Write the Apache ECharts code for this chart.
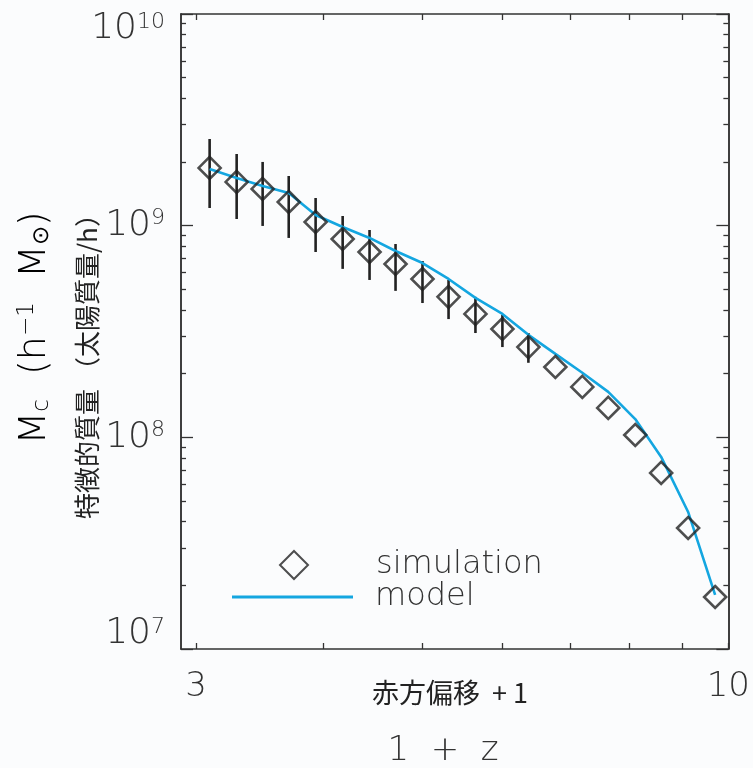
<!DOCTYPE html>
<html>
<head>
<meta charset="utf-8">
<script src="https://cdn.jsdelivr.net/npm/echarts@6/dist/echarts.min.js"></script>
<style>
html,body{margin:0;padding:0;background:#fbfcfd;}
#chart{width:753px;height:768px;}
</style>
</head>
<body>
<div id="chart"></div>
<script>
// ---- data ----
const onePlusZ = [3.094, 3.289, 3.488, 3.700, 3.932, 4.180, 4.442, 4.711, 5.007, 5.311,
                  5.644, 5.999, 6.362, 6.762, 7.187, 7.621, 8.101, 8.590, 9.130, 9.705];
const simMass = [1.874e9, 1.609e9, 1.491e9, 1.294e9, 1.041e9, 8.65e8, 7.51e8, 6.59e8, 5.60e8, 4.61e8,
                 3.83e8, 3.25e8, 2.67e8, 2.15e8, 1.73e8, 1.377e8, 1.026e8, 6.79e7, 3.73e7, 1.76e7];
const errLow  = [1.212e9, 1.075e9, 9.97e8, 8.75e8, 7.51e8, 6.25e8, 5.54e8, 4.92e8, 4.31e8, 3.62e8, 3.11e8, 2.67e8, 2.25e8];
const errHigh = [2.568e9, 2.181e9, 2.000e9, 1.717e9, 1.351e9, 1.111e9, 9.54e8, 8.19e8, 6.81e8, 5.54e8, 4.61e8, 3.79e8, 3.11e8];
const modelMass = [1.853e9, 1.680e9, 1.540e9, 1.427e9, 1.123e9, 9.86e8, 8.75e8, 7.59e8, 6.66e8, 5.60e8,
                   4.56e8, 3.83e8, 3.05e8, 2.48e8, 2.02e8, 1.64e8, 1.22e8, 8.08e7, 4.44e7, 1.80e7];
const xTicks = [3, 4, 5, 6, 7, 8, 9, 10];
const xLabels = [3, 10];
const yMajor = [1e7, 1e8, 1e9, 1e10];
const yMinor = [2e7, 3e7, 4e7, 5e7, 6e7, 7e7, 8e7, 9e7,
                2e8, 3e8, 4e8, 5e8, 6e8, 7e8, 8e8, 9e8,
                2e9, 3e9, 4e9, 5e9, 6e9, 7e9, 8e9, 9e9];
const seriesNames = ['simulation', 'model'];

// ---- chart ----
const FONT = "'DejaVu Sans'";
const CJK = "'Noto Sans CJK JP'";
const INK = '#333';
const chart = echarts.init(document.getElementById('chart'));

const simData = onePlusZ.map((x, i) => [x, simMass[i]]);
const modelData = onePlusZ.map((x, i) => [x, modelMass[i]]);
const errData = errLow.map((lo, i) => [onePlusZ[i], lo, errHigh[i]]);

const axisLine = {show: true, lineStyle: {color: INK, width: 1.5}};
function xAxisCfg(pos, labels) {
  return {
    type: 'log', position: pos, min: 2.9, max: 10,
    axisLine: axisLine,
    axisTick: {show: true, inside: true, length: 6, customValues: xTicks, lineStyle: {color: INK, width: 1.3}},
    axisLabel: labels ? {show: true, customValues: xLabels, margin: 21, fontFamily: FONT, fontWeight: 200, fontSize: 34, color: INK} : {show: false},
    splitLine: {show: false}, minorTick: {show: false}
  };
}
function yAxisCfg(pos, major, labels) {
  const cfg = {
    type: 'log', position: pos, min: 1e7, max: 1e10,
    axisLine: axisLine,
    axisTick: {show: true, inside: true, length: major ? 12 : 5, customValues: major ? yMajor : yMinor,
               lineStyle: {color: INK, width: 1.3}},
    axisLabel: {show: false},
    splitLine: {show: false}, minorTick: {show: false}
  };
  if (labels) {
    const base = {fontFamily: FONT, fontWeight: 200, fontSize: 36, color: INK};
    const sup = {fontFamily: FONT, fontWeight: 200, fontSize: 22, color: INK, verticalAlign: 'top'};
    cfg.axisLabel = {
      show: true, customValues: yMajor, margin: 16,
      formatter: function (v) {
        const e = Math.round(Math.log10(v));
        let k = 'n';
        if (e === 10) k = 't';
        if (e === 7) k = 'l';
        return '{' + k + 'b|10}{' + k + 's|' + e + '}';
      },
      rich: {
        nb: base, ns: sup,
        tb: Object.assign({}, base, {padding: [30, 0, 0, 0]}), ts: Object.assign({}, sup, {padding: [30, 0, 0, 0]}),
        lb: Object.assign({}, base, {padding: [0, 0, 30, 0]}), ls: Object.assign({}, sup, {padding: [0, 0, 30, 0]})
      }
    };
  }
  return cfg;
}

const legendText = {fontFamily: FONT, fontWeight: 200, fontSize: 32, color: INK, lineHeight: 24};

chart.setOption({
  backgroundColor: '#fbfcfd',
  animation: false,
  grid: {left: 181, right: 24, top: 14, bottom: 119, containLabel: false},
  xAxis: [xAxisCfg('bottom', true), xAxisCfg('top', false)],
  yAxis: [yAxisCfg('left', true, true), yAxisCfg('left', false, false),
          yAxisCfg('right', true, false), yAxisCfg('right', false, false)],
  legend: [
    {
      orient: 'vertical', left: 279, top: 549, padding: 0,
      itemWidth: 28, itemHeight: 28,
      data: [{name: seriesNames[0], icon: 'diamond'}],
      textStyle: Object.assign({}, legendText, {padding: [0, 0, 0, 63]})
    },
    {
      orient: 'vertical', left: 232, top: 581, padding: 0,
      itemWidth: 121, itemHeight: 3,
      data: [{name: seriesNames[1], icon: 'rect'}],
      textStyle: Object.assign({}, legendText, {padding: [0, 0, 0, 17]})
    }
  ],
  series: [
    {
      type: 'custom', name: 'errorbars', xAxisIndex: 0, yAxisIndex: 0,
      renderItem: function (params, api) {
        const x = api.value(0);
        const p1 = api.coord([x, api.value(1)]);
        const p2 = api.coord([x, api.value(2)]);
        return {type: 'line', shape: {x1: p1[0], y1: p1[1], x2: p2[0], y2: p2[1]},
                style: {stroke: '#222', lineWidth: 2.6}};
      },
      encode: {x: 0, y: [1, 2]},
      data: errData, z: 2
    },
    {
      type: 'line', name: seriesNames[1], xAxisIndex: 0, yAxisIndex: 0,
      data: modelData, symbol: 'none',
      lineStyle: {color: '#14a6e0', width: 2.6}, itemStyle: {color: '#14a6e0'}, z: 3
    },
    {
      type: 'scatter', name: seriesNames[0], xAxisIndex: 0, yAxisIndex: 0,
      data: simData, symbol: 'diamond', symbolSize: 22,
      itemStyle: {color: 'rgba(0,0,0,0)', borderColor: '#222', borderWidth: 2.6}, z: 4
    }
  ],
  graphic: [
    {type: 'text', x: 35, y: 328, rotation: Math.PI / 2,
     style: {text: '{b|M}{sb|c}{b|  (h}{sp|−1}{b|  M}{sb|⊙}{b|)}', align: 'center', verticalAlign: 'middle',
             rich: {b: {fontFamily: FONT, fontWeight: 200, fontSize: 38, color: INK},
                    sb: {fontFamily: FONT, fontWeight: 200, fontSize: 23, color: INK, verticalAlign: 'bottom'},
                    sp: {fontFamily: FONT, fontWeight: 200, fontSize: 23, color: INK, verticalAlign: 'top'}}}},
    {type: 'text', x: 87, y: 360, rotation: Math.PI / 2,
     style: {text: '特徴的質量 （太陽質量/h）', align: 'center', verticalAlign: 'middle',
             font: '26px ' + CJK, fill: '#222'}},
    {type: 'text', x: 450, y: 693,
     style: {text: '赤方偏移  + 1', align: 'center', verticalAlign: 'middle', font: '27px ' + CJK, fill: '#222'}},
    {type: 'text', x: 443, y: 751,
     style: {text: '1  +  z', align: 'center', verticalAlign: 'middle', font: '200 34px ' + FONT, fill: INK}}
  ]
});
</script>
</body>
</html>
